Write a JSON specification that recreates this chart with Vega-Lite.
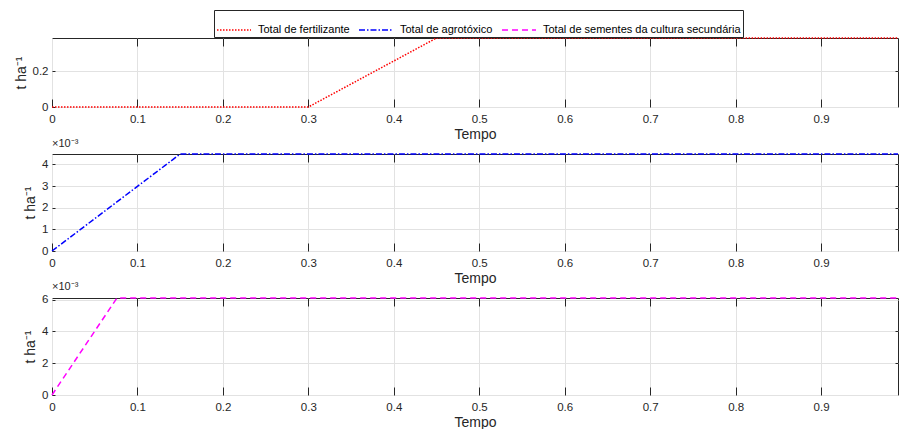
{
  "$schema": "https://vega.github.io/schema/vega-lite/v6.json",
  "background": "white",
  "padding": {"left": 13, "top": 9, "right": 1, "bottom": 0},
  "autosize": {"type": "pad"},
  "spacing": 47,
  "bounds": "flush",
  "config": {
    "font": "Liberation Sans",
    "view": {"stroke": "#262626", "strokeWidth": 1},
    "axis": {
      "domain": false,
      "gridColor": "#e2e2e2",
      "gridWidth": 1,
      "tickColor": "#262626",
      "labelColor": "#262626",
      "titleColor": "#262626",
      "labelFont": "Liberation Sans",
      "titleFont": "Liberation Sans",
      "labelFontSize": 11.5,
      "titleFontSize": 14,
      "titleFontWeight": "normal"
    },
    "legend": {
      "labelFont": "Liberation Sans",
      "labelFontSize": 11,
      "labelColor": "#000000",
      "labelLimit": 0
    },
    "title": {"font": "Liberation Sans", "fontSize": 11, "fontWeight": "normal", "color": "#262626"}
  },
  "datasets": {
    "fert": [
      {"t": 0, "v": 0, "serie": "Total de fertilizante"},
      {"t": 0.3, "v": 0, "serie": "Total de fertilizante"},
      {"t": 0.45, "v": 0.385, "serie": "Total de fertilizante"},
      {"t": 0.99, "v": 0.385, "serie": "Total de fertilizante"}
    ],
    "agro": [
      {"t": 0, "v": 0, "serie": "Total de agrotóxico"},
      {"t": 0.15, "v": 0.00448, "serie": "Total de agrotóxico"},
      {"t": 0.99, "v": 0.00448, "serie": "Total de agrotóxico"}
    ],
    "sem": [
      {"t": 0, "v": 0, "serie": "Total de sementes da cultura secundária"},
      {"t": 0.076, "v": 0.00611, "serie": "Total de sementes da cultura secundária"},
      {"t": 0.99, "v": 0.00611, "serie": "Total de sementes da cultura secundária"}
    ]
  },
  "vconcat": [
    {
      "width": 846,
      "height": 69,
      "data": {"name": "fert"},
      "layer": [
        {
          "mark": {"type": "line", "strokeWidth": 1.5},
          "encoding": {
            "x": {"field": "t", "type": "quantitative", "scale": {"domain": [0, 0.99], "nice": false, "zero": false},
              "axis": {"title": "Tempo", "values": [0, 0.1, 0.2, 0.3, 0.4, 0.5, 0.6, 0.7, 0.8, 0.9], "format": "~g", "tickSize": -8, "labelPadding": 14.5, "titlePadding": 2, "labelFlush": false}},
            "y": {"field": "v", "type": "quantitative", "scale": {"domain": [0, 0.385], "nice": false},
              "axis": {"title": "t ha⁻¹", "values": [0, 0.2], "format": "~g", "tickSize": -3, "labelPadding": 7, "titlePadding": 4, "labelFlush": false}},
            "color": {"field": "serie", "type": "nominal",
              "scale": {"domain": ["Total de fertilizante", "Total de agrotóxico", "Total de sementes da cultura secundária"], "range": ["#ff0000", "#0000ff", "#ff00ff"]},
              "legend": {"title": null, "orient": "none", "legendX": 162, "legendY": -28, "direction": "horizontal", "symbolType": "stroke", "symbolSize": 1156, "symbolStrokeWidth": 1.5, "strokeColor": "#262626", "fillColor": "white", "padding": 2, "columnPadding": 6, "labelOffset": 6}},
            "strokeDash": {"field": "serie", "type": "nominal",
              "scale": {"domain": ["Total de fertilizante", "Total de agrotóxico", "Total de sementes da cultura secundária"], "range": [[1.5, 1.5], [6, 2, 1.5, 2], [6, 4]]},
              "legend": {"title": null, "orient": "none", "legendX": 162, "legendY": -28, "direction": "horizontal", "symbolType": "stroke", "symbolSize": 1156, "symbolStrokeWidth": 1.5, "strokeColor": "#262626", "fillColor": "white", "padding": 2, "columnPadding": 6, "labelOffset": 6}}
          }
        },
        {
          "mark": {"type": "line", "opacity": 0},
          "encoding": {
            "x": {"field": "t", "type": "quantitative", "axis": {"orient": "top", "title": null, "labels": false, "grid": false, "values": [0.1, 0.2, 0.3, 0.4, 0.5, 0.6, 0.7, 0.8, 0.9], "tickSize": -8}},
            "y": {"field": "v", "type": "quantitative", "axis": {"orient": "right", "title": null, "labels": false, "grid": false, "values": [0.2], "tickSize": -3}}
          }
        }
      ],
      "resolve": {"axis": {"x": "independent", "y": "independent"}}
    },
    {
      "width": 846,
      "height": 97,
      "title": {"text": "×10⁻³", "anchor": "start", "frame": "group", "offset": 2},
      "data": {"name": "agro"},
      "layer": [
        {
          "mark": {"type": "line", "strokeWidth": 1.5},
          "encoding": {
            "x": {"field": "t", "type": "quantitative", "scale": {"domain": [0, 0.99], "nice": false, "zero": false},
              "axis": {"title": "Tempo", "values": [0, 0.1, 0.2, 0.3, 0.4, 0.5, 0.6, 0.7, 0.8, 0.9], "format": "~g", "tickSize": -8, "labelPadding": 14.5, "titlePadding": 2, "labelFlush": false}},
            "y": {"field": "v", "type": "quantitative", "scale": {"domain": [0, 0.00448], "nice": false},
              "axis": {"title": "t ha⁻¹", "values": [0, 0.001, 0.002, 0.003, 0.004], "labelExpr": "format(datum.value*1000, '.0f')", "tickSize": -3, "labelPadding": 7, "titlePadding": 4, "labelFlush": false}},
            "color": {"field": "serie", "type": "nominal",
              "scale": {"domain": ["Total de fertilizante", "Total de agrotóxico", "Total de sementes da cultura secundária"], "range": ["#ff0000", "#0000ff", "#ff00ff"]},
              "legend": {"title": null, "orient": "none", "legendX": 162, "legendY": -28, "direction": "horizontal", "symbolType": "stroke", "symbolSize": 1156, "symbolStrokeWidth": 1.5, "strokeColor": "#262626", "fillColor": "white", "padding": 2, "columnPadding": 6, "labelOffset": 6}},
            "strokeDash": {"field": "serie", "type": "nominal",
              "scale": {"domain": ["Total de fertilizante", "Total de agrotóxico", "Total de sementes da cultura secundária"], "range": [[1.5, 1.5], [6, 2, 1.5, 2], [6, 4]]},
              "legend": {"title": null, "orient": "none", "legendX": 162, "legendY": -28, "direction": "horizontal", "symbolType": "stroke", "symbolSize": 1156, "symbolStrokeWidth": 1.5, "strokeColor": "#262626", "fillColor": "white", "padding": 2, "columnPadding": 6, "labelOffset": 6}}
          }
        },
        {
          "mark": {"type": "line", "opacity": 0},
          "encoding": {
            "x": {"field": "t", "type": "quantitative", "axis": {"orient": "top", "title": null, "labels": false, "grid": false, "values": [0.1, 0.2, 0.3, 0.4, 0.5, 0.6, 0.7, 0.8, 0.9], "tickSize": -8}},
            "y": {"field": "v", "type": "quantitative", "axis": {"orient": "right", "title": null, "labels": false, "grid": false, "values": [0.001, 0.002, 0.003, 0.004], "tickSize": -3}}
          }
        }
      ],
      "resolve": {"axis": {"x": "independent", "y": "independent"}}
    },
    {
      "width": 846,
      "height": 97,
      "title": {"text": "×10⁻³", "anchor": "start", "frame": "group", "offset": 2},
      "data": {"name": "sem"},
      "layer": [
        {
          "mark": {"type": "line", "strokeWidth": 1.5},
          "encoding": {
            "x": {"field": "t", "type": "quantitative", "scale": {"domain": [0, 0.99], "nice": false, "zero": false},
              "axis": {"title": "Tempo", "values": [0, 0.1, 0.2, 0.3, 0.4, 0.5, 0.6, 0.7, 0.8, 0.9], "format": "~g", "tickSize": -8, "labelPadding": 14.5, "titlePadding": 2, "labelFlush": false}},
            "y": {"field": "v", "type": "quantitative", "scale": {"domain": [0, 0.00611], "nice": false},
              "axis": {"title": "t ha⁻¹", "values": [0, 0.002, 0.004, 0.006], "labelExpr": "format(datum.value*1000, '.0f')", "tickSize": -3, "labelPadding": 7, "titlePadding": 4, "labelFlush": false}},
            "color": {"field": "serie", "type": "nominal",
              "scale": {"domain": ["Total de fertilizante", "Total de agrotóxico", "Total de sementes da cultura secundária"], "range": ["#ff0000", "#0000ff", "#ff00ff"]},
              "legend": {"title": null, "orient": "none", "legendX": 162, "legendY": -28, "direction": "horizontal", "symbolType": "stroke", "symbolSize": 1156, "symbolStrokeWidth": 1.5, "strokeColor": "#262626", "fillColor": "white", "padding": 2, "columnPadding": 6, "labelOffset": 6}},
            "strokeDash": {"field": "serie", "type": "nominal",
              "scale": {"domain": ["Total de fertilizante", "Total de agrotóxico", "Total de sementes da cultura secundária"], "range": [[1.5, 1.5], [6, 2, 1.5, 2], [6, 4]]},
              "legend": {"title": null, "orient": "none", "legendX": 162, "legendY": -28, "direction": "horizontal", "symbolType": "stroke", "symbolSize": 1156, "symbolStrokeWidth": 1.5, "strokeColor": "#262626", "fillColor": "white", "padding": 2, "columnPadding": 6, "labelOffset": 6}}
          }
        },
        {
          "mark": {"type": "line", "opacity": 0},
          "encoding": {
            "x": {"field": "t", "type": "quantitative", "axis": {"orient": "top", "title": null, "labels": false, "grid": false, "values": [0.1, 0.2, 0.3, 0.4, 0.5, 0.6, 0.7, 0.8, 0.9], "tickSize": -8}},
            "y": {"field": "v", "type": "quantitative", "axis": {"orient": "right", "title": null, "labels": false, "grid": false, "values": [0.002, 0.004], "tickSize": -3}}
          }
        }
      ],
      "resolve": {"axis": {"x": "independent", "y": "independent"}}
    }
  ]
}
